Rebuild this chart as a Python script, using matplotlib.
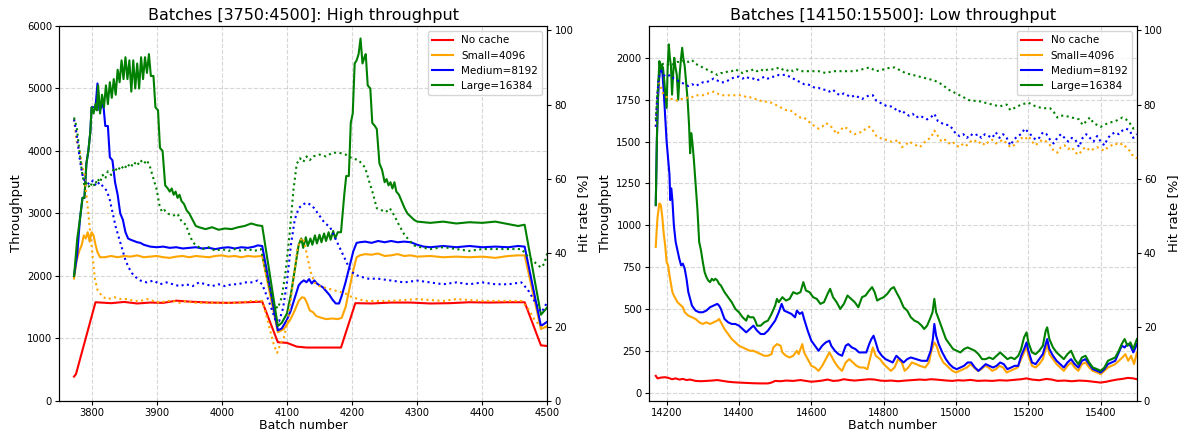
import numpy as np
import matplotlib
matplotlib.use("Agg")
import matplotlib.pyplot as plt

# ---- series labels / colours ----
labels = ["No cache", "Small=4096", "Medium=8192", "Large=16384"]
colors = ["red", "orange", "blue", "green"]

# ===== Batches [3750:4500] : throughput (batch, value) =====
hi_nocache = [(3773, 390), (3776, 430), (3806, 1580), (3830, 1565), (3850, 1585), (3870, 1560),
              (3890, 1575), (3910, 1570), (3930, 1605), (3950, 1590), (3980, 1575), (4010, 1570),
              (4040, 1580), (4062, 1590), (4086, 940), (4100, 930), (4115, 870), (4130, 855),
              (4160, 855), (4183, 855), (4205, 1565), (4230, 1560), (4260, 1575), (4290, 1575),
              (4320, 1560), (4350, 1565), (4380, 1580), (4410, 1575), (4440, 1580), (4465, 1580),
              (4490, 890), (4500, 880)]

hi_small = [(3773, 1960), (3777, 2250), (3781, 2400), (3785, 2500), (3788, 2650), (3791, 2600),
            (3794, 2700), (3797, 2550), (3800, 2700), (3803, 2650), (3806, 2500), (3809, 2380),
            (3813, 2300), (3820, 2300), (3830, 2320), (3840, 2300), (3850, 2320), (3860, 2310),
            (3870, 2330), (3880, 2300), (3890, 2310), (3900, 2320), (3910, 2300), (3920, 2290),
            (3930, 2310), (3940, 2320), (3950, 2300), (3960, 2320), (3970, 2310), (3980, 2300),
            (3990, 2320), (4000, 2330), (4010, 2310), (4020, 2320), (4030, 2300), (4040, 2320),
            (4050, 2310), (4062, 2320), (4086, 1100), (4095, 1150), (4105, 1300), (4112, 1450),
            (4118, 1600), (4123, 1660), (4127, 1650), (4131, 1560), (4135, 1450), (4140, 1420),
            (4145, 1360), (4150, 1340), (4160, 1310), (4170, 1320), (4178, 1310), (4184, 1330),
            (4190, 1500), (4196, 1800), (4202, 2100), (4207, 2300), (4212, 2330), (4220, 2350),
            (4230, 2340), (4240, 2360), (4250, 2320), (4260, 2330), (4270, 2350), (4280, 2320),
            (4290, 2330), (4300, 2310), (4320, 2320), (4340, 2300), (4360, 2310), (4380, 2300),
            (4400, 2310), (4420, 2290), (4440, 2320), (4455, 2330), (4465, 2330), (4490, 1150),
            (4500, 1200)]

hi_medium = [(3773, 2000), (3778, 2350), (3782, 2900), (3786, 3250), (3789, 3250), (3792, 3800),
             (3795, 4000), (3798, 4300), (3800, 4700), (3803, 4700), (3806, 4700), (3809, 5080),
             (3812, 4650), (3815, 4700), (3818, 4750), (3821, 4400), (3825, 4400), (3828, 3900),
             (3832, 3850), (3836, 3500), (3840, 3300), (3844, 3000), (3848, 2900), (3852, 2700),
             (3856, 2600), (3860, 2580), (3865, 2560), (3870, 2540), (3875, 2530), (3880, 2500),
             (3890, 2470), (3900, 2460), (3910, 2470), (3920, 2450), (3930, 2460), (3940, 2440),
             (3950, 2450), (3960, 2460), (3970, 2440), (3980, 2450), (3990, 2430), (4000, 2450),
             (4010, 2460), (4020, 2440), (4030, 2460), (4040, 2450), (4050, 2470), (4055, 2490),
             (4062, 2480), (4086, 1130), (4092, 1160), (4100, 1300), (4106, 1450), (4112, 1650),
             (4118, 1850), (4122, 1900), (4126, 1930), (4130, 1900), (4134, 1950), (4138, 1880),
             (4142, 1930), (4146, 1880), (4150, 1850), (4155, 1820), (4160, 1760), (4165, 1700),
             (4170, 1620), (4175, 1560), (4180, 1560), (4184, 1680), (4190, 1900), (4196, 2150),
             (4202, 2400), (4207, 2530), (4212, 2540), (4220, 2550), (4230, 2530), (4240, 2560),
             (4250, 2540), (4260, 2560), (4270, 2540), (4280, 2550), (4290, 2540), (4300, 2500),
             (4310, 2470), (4320, 2460), (4340, 2480), (4360, 2460), (4380, 2480), (4400, 2460),
             (4420, 2470), (4440, 2460), (4455, 2480), (4465, 2470), (4490, 1200), (4500, 1270)]

hi_large = [(3773, 2000), (3778, 2600), (3782, 2900), (3786, 3250), (3789, 3250), (3792, 3800),
            (3795, 4000), (3798, 4300), (3800, 4700), (3803, 4600), (3806, 4750), (3808, 4650),
            (3810, 5050), (3813, 4600), (3816, 4900), (3819, 4700), (3822, 5050), (3825, 4750),
            (3828, 5100), (3831, 4850), (3834, 5150), (3837, 4900), (3840, 5300), (3843, 5100),
            (3846, 5450), (3849, 5150), (3852, 5500), (3855, 5150), (3858, 5450), (3861, 4950),
            (3864, 5450), (3867, 5000), (3870, 5400), (3873, 5000), (3876, 5500), (3879, 5150),
            (3882, 5500), (3885, 5250), (3888, 5550), (3891, 5200), (3895, 5200), (3898, 4700),
            (3902, 4650), (3905, 4050), (3909, 4000), (3913, 3450), (3917, 3400), (3920, 3350),
            (3923, 3400), (3926, 3300), (3929, 3350), (3932, 3250), (3935, 3300), (3938, 3200),
            (3942, 3150), (3946, 3050), (3950, 3000), (3955, 2900), (3960, 2800), (3965, 2780),
            (3975, 2750), (3985, 2780), (3995, 2740), (4005, 2760), (4015, 2750), (4025, 2780),
            (4035, 2800), (4045, 2840), (4055, 2810), (4062, 2800), (4086, 1200), (4092, 1250),
            (4100, 1400), (4106, 1700), (4112, 2100), (4118, 2500), (4122, 2600), (4125, 2450),
            (4129, 2620), (4132, 2480), (4136, 2600), (4139, 2500), (4143, 2650), (4146, 2520),
            (4150, 2660), (4153, 2540), (4157, 2680), (4160, 2560), (4164, 2700), (4167, 2580),
            (4171, 2720), (4174, 2600), (4178, 2700), (4183, 2700), (4188, 3300), (4191, 3600),
            (4195, 3600), (4198, 4450), (4201, 4600), (4204, 5400), (4207, 5450), (4210, 5550),
            (4213, 5800), (4216, 5400), (4219, 5500), (4221, 5550), (4224, 5050), (4228, 5000),
            (4231, 4450), (4235, 4400), (4238, 4350), (4242, 3800), (4246, 3700), (4250, 3500),
            (4253, 3550), (4256, 3450), (4259, 3500), (4262, 3400), (4265, 3500), (4268, 3350),
            (4272, 3300), (4276, 3200), (4280, 3100), (4285, 3000), (4290, 2950), (4295, 2900),
            (4300, 2870), (4320, 2850), (4340, 2870), (4360, 2840), (4380, 2860), (4400, 2850),
            (4420, 2870), (4440, 2830), (4455, 2800), (4465, 2820), (4490, 1380), (4500, 1500)]

# ===== Batches [3750:4500] : hit rate % =====
hi_small_hr = [(3773, 76), (3777, 70), (3781, 68), (3785, 64), (3789, 61), (3793, 54), (3797, 47),
               (3801, 40), (3805, 33), (3809, 30), (3813, 29), (3818, 28), (3825, 27.5), (3835, 28),
               (3845, 27.5), (3855, 27.5), (3865, 27), (3875, 27), (3885, 27.5), (3895, 27),
               (3905, 26.5), (3915, 27), (3925, 27), (3935, 26.5), (3945, 27), (3955, 26.5),
               (3965, 26.5), (3985, 26.5), (4005, 26.5), (4025, 26.5), (4045, 27), (4062, 27),
               (4070, 22), (4080, 15), (4085, 13), (4090, 15.5), (4095, 17), (4102, 22), (4110, 33),
               (4116, 41), (4121, 43.5), (4125, 44), (4130, 40), (4136, 35), (4142, 32), (4150, 31),
               (4160, 30.5), (4170, 30), (4180, 29.5), (4190, 29), (4200, 28), (4210, 27.5),
               (4220, 27), (4260, 27), (4300, 27.5), (4340, 27), (4360, 27.5), (4400, 27),
               (4460, 27), (4470, 25), (4480, 22), (4490, 20), (4495, 19.5), (4500, 21)]

hi_medium_hr = [(3773, 76), (3777, 72), (3782, 65), (3787, 60), (3792, 59), (3797, 58.5),
                (3802, 59.5), (3807, 58), (3812, 59), (3817, 58), (3822, 57), (3827, 55), (3832, 51),
                (3837, 47), (3842, 44), (3847, 41), (3852, 38), (3857, 36), (3862, 34.5),
                (3867, 33.5), (3875, 32.5), (3885, 32), (3895, 32.5), (3905, 31.5), (3915, 32),
                (3925, 31.5), (3935, 31), (3945, 31.5), (3955, 31), (3965, 32), (3975, 31.5),
                (3985, 31), (3995, 31.5), (4005, 31), (4015, 31.5), (4025, 31.5), (4035, 32),
                (4045, 32), (4055, 32.5), (4062, 31.5), (4072, 27), (4082, 22), (4088, 21.5),
                (4094, 25), (4100, 32), (4106, 42), (4112, 49), (4118, 52), (4124, 53), (4130, 53.5),
                (4136, 53), (4142, 52), (4150, 50), (4158, 48), (4166, 47), (4174, 44), (4182, 41),
                (4190, 38), (4198, 35), (4206, 34), (4214, 33.5), (4225, 33), (4240, 33),
                (4260, 32.5), (4280, 32), (4300, 32.5), (4320, 32), (4340, 31.5), (4360, 32),
                (4380, 31.5), (4400, 32), (4420, 31.5), (4440, 31.5), (4460, 32), (4470, 30),
                (4480, 27), (4490, 24), (4495, 25), (4500, 27)]

hi_large_hr = [(3773, 76.5), (3777, 74), (3781, 68), (3785, 62), (3789, 58), (3793, 59),
               (3797, 57.5), (3801, 59), (3805, 58), (3809, 60), (3813, 59), (3817, 61), (3821, 60),
               (3825, 62), (3830, 61), (3835, 63), (3840, 62), (3845, 63.5), (3850, 62.5),
               (3855, 64), (3860, 63), (3865, 64.5), (3870, 63.5), (3875, 65), (3880, 64),
               (3885, 65), (3890, 63), (3895, 60), (3900, 57), (3904, 53), (3908, 51),
               (3912, 51.5), (3918, 50.5), (3925, 50), (3932, 50.5), (3938, 48.5), (3945, 47.5),
               (3950, 45), (3955, 43), (3960, 42), (3970, 41), (3980, 41.5), (3990, 40.5),
               (4000, 41), (4010, 40.5), (4020, 41), (4030, 40.5), (4040, 41), (4050, 40.5),
               (4060, 41), (4070, 33), (4080, 26), (4086, 25), (4092, 28), (4098, 35), (4104, 45),
               (4110, 57), (4115, 64), (4120, 65.5), (4125, 64.5), (4130, 66), (4135, 65),
               (4140, 66), (4150, 66.5), (4160, 66), (4170, 67), (4180, 67), (4190, 66.5),
               (4200, 65.5), (4210, 65), (4215, 64), (4220, 63), (4225, 60), (4232, 56), (4238, 52),
               (4245, 51.5), (4252, 51), (4258, 52), (4265, 50), (4272, 47.5), (4280, 45),
               (4287, 43.5), (4295, 42), (4305, 41.5), (4320, 41), (4340, 41.5), (4360, 41),
               (4380, 40.5), (4400, 41), (4460, 41), (4470, 39), (4480, 37.5), (4490, 36),
               (4495, 37), (4500, 40)]

# ===== Batches [14150:15500] : throughput =====
lo_nocache = [(14170, 100), (14175, 85), (14185, 90), (14195, 92), (14205, 88), (14215, 80),
              (14225, 85), (14235, 78), (14245, 82), (14255, 75), (14265, 78), (14280, 70),
              (14295, 68), (14310, 70), (14325, 72), (14340, 75), (14355, 70), (14370, 65),
              (14385, 62), (14400, 60), (14420, 58), (14440, 56), (14460, 55), (14480, 55),
              (14490, 60), (14500, 70), (14515, 68), (14530, 72), (14550, 70), (14570, 75),
              (14585, 70), (14600, 65), (14615, 68), (14630, 72), (14645, 78), (14660, 70),
              (14675, 72), (14690, 80), (14705, 75), (14720, 72), (14740, 76), (14760, 80),
              (14775, 78), (14790, 72), (14805, 70), (14820, 72), (14840, 68), (14860, 72),
              (14880, 75), (14900, 78), (14915, 76), (14930, 80), (14945, 78), (14960, 75),
              (14975, 72), (14990, 70), (15005, 74), (15020, 72), (15040, 76), (15060, 70),
              (15080, 72), (15100, 70), (15120, 74), (15140, 72), (15160, 76), (15180, 80),
              (15195, 85), (15210, 78), (15230, 74), (15250, 82), (15265, 78), (15280, 70),
              (15300, 72), (15320, 68), (15340, 72), (15360, 70), (15380, 65), (15400, 60),
              (15415, 65), (15430, 72), (15445, 78), (15460, 82), (15475, 88), (15490, 85),
              (15500, 80)]

lo_small = [(14170, 870), (14172, 950), (14175, 1050), (14180, 1130), (14184, 1120), (14188, 1050),
            (14192, 950), (14196, 880), (14200, 780), (14204, 760), (14208, 700), (14212, 650),
            (14216, 600), (14220, 580), (14225, 560), (14230, 540), (14235, 530), (14240, 520),
            (14245, 510), (14250, 480), (14255, 470), (14260, 460), (14270, 450), (14280, 440),
            (14290, 420), (14300, 410), (14310, 420), (14320, 410), (14330, 420), (14340, 430),
            (14345, 440), (14350, 420), (14360, 380), (14370, 350), (14380, 320), (14390, 300),
            (14400, 280), (14410, 270), (14420, 260), (14430, 250), (14440, 250), (14450, 240),
            (14460, 230), (14470, 220), (14480, 220), (14490, 230), (14495, 270), (14505, 290),
            (14515, 280), (14520, 240), (14530, 220), (14540, 210), (14550, 220), (14560, 250),
            (14565, 230), (14575, 290), (14580, 240), (14590, 200), (14600, 160), (14610, 150),
            (14620, 130), (14630, 160), (14640, 200), (14650, 240), (14655, 220), (14665, 180),
            (14675, 150), (14685, 130), (14695, 180), (14705, 200), (14715, 180), (14725, 160),
            (14735, 150), (14745, 150), (14755, 140), (14762, 200), (14770, 270), (14778, 220),
            (14790, 200), (14800, 170), (14810, 150), (14820, 130), (14830, 150), (14840, 200),
            (14850, 180), (14858, 130), (14868, 150), (14878, 180), (14890, 170), (14900, 160),
            (14915, 150), (14925, 180), (14932, 250), (14940, 300), (14946, 280), (14955, 220),
            (14965, 180), (14980, 150), (14990, 130), (15000, 120), (15010, 130), (15020, 140),
            (15030, 150), (15040, 170), (15050, 150), (15060, 130), (15070, 140), (15080, 160),
            (15090, 150), (15100, 130), (15110, 140), (15120, 160), (15130, 150), (15140, 120),
            (15150, 130), (15160, 140), (15170, 150), (15180, 200), (15188, 240), (15195, 280),
            (15200, 220), (15210, 160), (15220, 150), (15230, 170), (15240, 200), (15248, 260),
            (15252, 290), (15258, 230), (15268, 200), (15278, 170), (15288, 150), (15298, 130),
            (15308, 160), (15318, 180), (15328, 150), (15338, 130), (15348, 170), (15358, 180),
            (15368, 150), (15378, 130), (15390, 120), (15400, 110), (15410, 130), (15420, 150),
            (15430, 160), (15440, 170), (15450, 190), (15460, 210), (15468, 230), (15476, 190),
            (15484, 220), (15492, 170), (15500, 240)]

lo_medium = [(14170, 1120), (14173, 1500), (14176, 1750), (14180, 1900), (14184, 1950),
             (14188, 1920), (14192, 1800), (14196, 1650), (14200, 1500), (14204, 1400),
             (14208, 1300), (14210, 1150), (14213, 1220), (14216, 1150), (14220, 1000),
             (14225, 900), (14230, 850), (14235, 800), (14240, 760), (14245, 770), (14250, 740),
             (14255, 680), (14260, 600), (14265, 560), (14270, 520), (14280, 490), (14290, 480),
             (14300, 480), (14310, 490), (14320, 510), (14330, 520), (14340, 530), (14345, 520),
             (14350, 500), (14360, 440), (14370, 420), (14380, 410), (14390, 410), (14400, 400),
             (14410, 380), (14420, 360), (14430, 380), (14440, 400), (14450, 370), (14460, 350),
             (14470, 350), (14480, 370), (14490, 400), (14500, 430), (14510, 480), (14518, 530),
             (14525, 490), (14535, 480), (14545, 470), (14555, 450), (14560, 490), (14568, 470),
             (14575, 480), (14580, 440), (14590, 370), (14600, 310), (14610, 280), (14620, 250),
             (14630, 280), (14640, 300), (14650, 310), (14655, 280), (14665, 250), (14675, 230),
             (14685, 220), (14695, 280), (14702, 290), (14712, 270), (14722, 260), (14732, 240),
             (14742, 240), (14752, 240), (14760, 290), (14766, 320), (14772, 340), (14778, 300),
             (14785, 250), (14795, 220), (14805, 200), (14815, 190), (14825, 180), (14835, 220),
             (14845, 200), (14855, 180), (14865, 200), (14875, 210), (14890, 200), (14905, 190),
             (14920, 190), (14930, 250), (14936, 320), (14940, 410), (14945, 340), (14952, 290),
             (14962, 240), (14972, 200), (14982, 170), (14992, 150), (15002, 140), (15012, 150),
             (15022, 160), (15032, 180), (15042, 180), (15052, 150), (15062, 130), (15072, 150),
             (15082, 170), (15092, 160), (15102, 150), (15112, 160), (15122, 180), (15132, 170),
             (15142, 140), (15152, 150), (15162, 160), (15172, 160), (15180, 220), (15188, 260),
             (15195, 300), (15200, 250), (15210, 180), (15220, 170), (15230, 200), (15240, 230),
             (15248, 290), (15252, 320), (15258, 260), (15268, 220), (15278, 190), (15288, 170),
             (15298, 150), (15308, 180), (15318, 200), (15328, 170), (15338, 150), (15348, 190),
             (15358, 200), (15368, 170), (15378, 140), (15390, 130), (15400, 120), (15410, 140),
             (15420, 170), (15430, 180), (15440, 190), (15450, 240), (15458, 280), (15466, 270),
             (15474, 290), (15482, 280), (15490, 240), (15500, 290)]

lo_large = [(14170, 1120), (14173, 1500), (14176, 1800), (14180, 1980), (14183, 1940),
            (14186, 1960), (14190, 1940), (14194, 1850), (14198, 1750), (14200, 1700),
            (14203, 1950), (14206, 2080), (14209, 2000), (14212, 1950), (14215, 1780),
            (14218, 1900), (14221, 2000), (14224, 1950), (14228, 1900), (14232, 1750),
            (14236, 1900), (14240, 2000), (14243, 2060), (14246, 2000), (14250, 1950),
            (14254, 1850), (14258, 1750), (14262, 1600), (14265, 1430), (14268, 1550),
            (14271, 1500), (14275, 1400), (14280, 1250), (14285, 1100), (14290, 900), (14295, 850),
            (14300, 780), (14305, 720), (14310, 690), (14315, 670), (14320, 660), (14325, 680),
            (14330, 670), (14335, 680), (14340, 670), (14345, 650), (14350, 640), (14360, 600),
            (14370, 570), (14380, 540), (14390, 500), (14400, 480), (14410, 450), (14420, 430),
            (14425, 460), (14430, 450), (14440, 450), (14445, 430), (14450, 400), (14460, 400),
            (14470, 420), (14480, 430), (14490, 470), (14500, 520), (14505, 560), (14510, 540),
            (14520, 570), (14530, 550), (14540, 560), (14550, 600), (14560, 590), (14570, 600),
            (14578, 660), (14585, 610), (14595, 600), (14605, 570), (14615, 560), (14625, 530),
            (14635, 540), (14645, 590), (14652, 620), (14660, 570), (14670, 540), (14680, 500),
            (14690, 530), (14700, 580), (14710, 560), (14720, 540), (14730, 510), (14740, 570),
            (14750, 580), (14760, 610), (14768, 630), (14775, 600), (14782, 550), (14790, 560),
            (14800, 570), (14810, 590), (14820, 620), (14828, 630), (14835, 600), (14845, 560),
            (14855, 510), (14865, 490), (14875, 450), (14885, 430), (14895, 420), (14905, 400),
            (14912, 380), (14920, 400), (14928, 440), (14935, 480), (14940, 560), (14945, 480),
            (14952, 440), (14962, 380), (14972, 320), (14982, 290), (14992, 260), (15002, 250),
            (15012, 240), (15022, 260), (15032, 270), (15042, 260), (15052, 250), (15062, 230),
            (15072, 200), (15082, 200), (15092, 210), (15102, 200), (15112, 220), (15122, 240),
            (15132, 220), (15142, 200), (15152, 210), (15162, 200), (15172, 220), (15180, 260),
            (15188, 330), (15195, 360), (15200, 300), (15210, 240), (15220, 230), (15230, 250),
            (15240, 280), (15248, 370), (15252, 390), (15258, 320), (15268, 270), (15278, 240),
            (15288, 220), (15298, 200), (15308, 230), (15318, 250), (15328, 200), (15338, 170),
            (15348, 210), (15358, 220), (15368, 180), (15378, 150), (15390, 140), (15400, 130),
            (15410, 150), (15420, 190), (15430, 200), (15440, 210), (15450, 250), (15458, 290),
            (15466, 320), (15474, 280), (15482, 300), (15490, 260), (15500, 320)]

# ===== Batches [14150:15500] : hit rate % =====
lo_small_hr = [(14170, 74), (14174, 82), (14178, 86), (14182, 85.5), (14186, 84), (14190, 83),
               (14200, 82), (14210, 81.5), (14220, 81.5), (14230, 81), (14240, 81.5), (14250, 81.5),
               (14260, 82), (14270, 82), (14280, 82.5), (14290, 82.5), (14300, 82.5), (14310, 83),
               (14320, 83), (14330, 83.5), (14340, 83), (14350, 82.5), (14360, 82.5), (14380, 82.5),
               (14400, 82.5), (14410, 82.5), (14420, 82), (14430, 82), (14440, 81.5), (14450, 81.5),
               (14460, 81), (14470, 81), (14480, 80.5), (14490, 80.5), (14500, 80), (14510, 79.5),
               (14520, 79), (14530, 78.5), (14540, 78.5), (14550, 78), (14560, 77), (14570, 76.5),
               (14580, 76.5), (14590, 75.5), (14600, 75), (14610, 74), (14620, 73.5), (14630, 74),
               (14640, 75), (14650, 74.5), (14660, 73.5), (14670, 72), (14680, 73), (14690, 74),
               (14700, 73.5), (14710, 72.5), (14720, 72), (14730, 72.5), (14740, 72.5),
               (14750, 73.5), (14760, 74), (14770, 73), (14780, 71.5), (14790, 71), (14800, 70.5),
               (14810, 70.5), (14820, 70), (14830, 70), (14840, 70.5), (14850, 68.5), (14860, 69),
               (14870, 70), (14880, 69.5), (14890, 69), (14900, 68.5), (14910, 69.5), (14920, 70.5),
               (14930, 71), (14940, 73), (14950, 71.5), (14960, 70), (14970, 70.5), (14980, 69.5),
               (14990, 70), (15000, 69), (15010, 68.5), (15020, 69.5), (15030, 69), (15040, 70),
               (15050, 70.5), (15060, 69.5), (15070, 70), (15080, 69), (15090, 70), (15100, 70.5),
               (15110, 69.5), (15120, 70), (15130, 70.5), (15140, 69.5), (15150, 68.5), (15160, 69),
               (15170, 70), (15180, 71), (15190, 70.5), (15200, 71.5), (15210, 70), (15220, 69),
               (15230, 70), (15240, 70.5), (15250, 70), (15260, 69), (15270, 67.5), (15280, 67),
               (15290, 68.5), (15300, 69), (15310, 68), (15320, 68.5), (15330, 67), (15340, 66.5),
               (15350, 68), (15360, 68.5), (15370, 67.5), (15380, 68), (15390, 68.5), (15400, 68),
               (15410, 67.5), (15420, 68.5), (15430, 69), (15440, 69.5), (15450, 69), (15460, 69.5),
               (15470, 68.5), (15480, 67.5), (15490, 66), (15500, 65.5)]

lo_medium_hr = [(14170, 74), (14174, 82), (14178, 87), (14182, 88.5), (14186, 89), (14190, 88),
                (14200, 87.5), (14210, 88), (14220, 87), (14230, 86.5), (14240, 86), (14250, 85.5),
                (14260, 85), (14270, 85.5), (14280, 85), (14290, 85.5), (14300, 86), (14310, 86),
                (14320, 86.5), (14330, 87), (14340, 86.5), (14350, 86), (14360, 86), (14370, 86.5),
                (14380, 87), (14390, 87.5), (14400, 87.5), (14410, 87), (14420, 87.5), (14430, 87),
                (14440, 87), (14450, 86.5), (14460, 87), (14470, 87.5), (14480, 87), (14490, 87.5),
                (14500, 87.5), (14510, 88), (14520, 88), (14530, 88), (14540, 87.5), (14550, 87),
                (14560, 86.5), (14570, 86), (14580, 85.5), (14590, 85.5), (14600, 85), (14610, 84.5),
                (14620, 84.5), (14630, 84), (14640, 84), (14650, 83.5), (14660, 84), (14670, 83),
                (14680, 82.5), (14690, 83), (14700, 82.5), (14710, 82), (14720, 82.5), (14730, 82),
                (14740, 81.5), (14750, 82), (14760, 82.5), (14770, 82.5), (14780, 81), (14790, 80.5),
                (14800, 80), (14810, 79.5), (14820, 79.5), (14830, 79), (14840, 78), (14850, 78.5),
                (14860, 77.5), (14870, 77), (14880, 77.5), (14890, 76.5), (14900, 77), (14910, 76.5),
                (14920, 76), (14930, 76.5), (14940, 77.5), (14950, 75.5), (14960, 75), (14970, 74.5),
                (14980, 74.5), (14990, 73.5), (15000, 72), (15010, 71.5), (15020, 72), (15030, 71),
                (15040, 72), (15050, 71.5), (15060, 72), (15070, 71), (15080, 72), (15090, 71.5),
                (15100, 71), (15110, 72.5), (15120, 71), (15130, 72), (15140, 71), (15150, 69),
                (15160, 70.5), (15170, 71.5), (15180, 72), (15190, 73.5), (15200, 72.5),
                (15210, 71.5), (15220, 70.5), (15230, 71), (15240, 72.5), (15250, 72), (15260, 70.5),
                (15270, 69.5), (15280, 71), (15290, 72), (15300, 71), (15310, 70), (15320, 71),
                (15330, 70.5), (15340, 68.5), (15350, 71), (15360, 72), (15370, 71), (15380, 70),
                (15390, 71.5), (15400, 70), (15410, 69), (15420, 71), (15430, 72), (15440, 72.5),
                (15450, 72), (15460, 73), (15470, 73.5), (15480, 73), (15490, 71), (15500, 72)]

lo_large_hr = [(14170, 76), (14174, 82), (14178, 87), (14182, 89), (14186, 90.5), (14190, 91),
               (14200, 91), (14210, 90.5), (14220, 91), (14230, 91.5), (14240, 91.5), (14250, 92),
               (14260, 91.5), (14270, 92), (14280, 91), (14290, 90.5), (14300, 90), (14310, 89.5),
               (14320, 89), (14330, 88.5), (14340, 88), (14350, 88.5), (14360, 88.5), (14370, 89),
               (14380, 89), (14390, 89.5), (14400, 89), (14410, 88.5), (14420, 89), (14430, 89),
               (14440, 89.5), (14450, 89), (14460, 89.5), (14470, 89), (14480, 89.5), (14500, 89.5),
               (14510, 90), (14520, 89.5), (14530, 89), (14540, 89.5), (14550, 89), (14560, 89.5),
               (14570, 89), (14600, 89), (14620, 89), (14640, 88.5), (14660, 89), (14700, 89),
               (14720, 89), (14740, 89.5), (14760, 90), (14780, 89), (14800, 89.5), (14820, 90),
               (14830, 90), (14840, 89.5), (14860, 88.5), (14880, 88), (14900, 87.5), (14920, 87),
               (14940, 86.5), (14960, 85.5), (14980, 84), (15000, 83), (15020, 82), (15040, 81),
               (15060, 81), (15080, 80.5), (15100, 80), (15120, 79.5), (15140, 80), (15150, 78.5),
               (15160, 79), (15180, 80), (15200, 80.5), (15220, 79.5), (15240, 79), (15260, 79),
               (15270, 78), (15280, 76.5), (15290, 77), (15300, 77), (15320, 76.5), (15340, 76),
               (15350, 74.5), (15360, 75.5), (15370, 76.5), (15380, 75), (15400, 74), (15420, 75),
               (15440, 75.5), (15460, 76.5), (15470, 76), (15480, 75), (15490, 73.5), (15500, 74)]


def draw_panel(ax, title, throughput, hitrate, xlim, xticks, ylim, yticks):
    ax2 = ax.twinx()

    handles = []
    for label, color, pts in zip(labels, colors, throughput):
        x, y = np.array(pts).T
        line, = ax.plot(x, y, color=color, linewidth=1.5, label=label)
        handles.append(line)

    # dotted lines: hit rate (no cache has none)
    for color, pts in zip(colors[1:], hitrate):
        x, y = np.array(pts).T
        ax2.plot(x, y, color=color, linestyle=':', linewidth=1.5)

    ax.set_xlim(xlim)
    ax.set_xticks(xticks)
    ax.set_ylim(ylim)
    ax.set_yticks(yticks)
    ax2.set_ylim(0, 101.2)
    ax2.set_yticks([0, 20, 40, 60, 80, 100])

    ax.grid(True, linestyle='--', alpha=0.5)
    ax.set_title(title, fontsize=11.5, pad=4)
    ax.set_xlabel("Batch number", fontsize=9, labelpad=1)
    ax.set_ylabel("Throughput", fontsize=9.5, labelpad=3)
    ax2.set_ylabel("Hit rate [%]", fontsize=9.5, labelpad=3)
    ax.tick_params(labelsize=7.2, length=3, pad=2)
    ax2.tick_params(labelsize=7.2, length=3, pad=2)

    ax2.legend(handles=handles, loc='upper right', fontsize=7.5)


fig, (ax_hi, ax_lo) = plt.subplots(1, 2, figsize=(11.88, 4.36), dpi=100)
fig.subplots_adjust(left=0.0497, right=0.957, bottom=0.0803, top=0.9404, wspace=0.207)

draw_panel(ax_hi, "Batches [3750:4500]: High throughput",
           [hi_nocache, hi_small, hi_medium, hi_large],
           [hi_small_hr, hi_medium_hr, hi_large_hr],
           (3750, 4500), np.arange(3800, 4501, 100),
           (0, 6000), np.arange(0, 6001, 1000))

draw_panel(ax_lo, "Batches [14150:15500]: Low throughput",
           [lo_nocache, lo_small, lo_medium, lo_large],
           [lo_small_hr, lo_medium_hr, lo_large_hr],
           (14150, 15500), np.arange(14200, 15401, 200),
           (-50, 2190), np.arange(0, 2001, 250))

fig.savefig("out.png", dpi=100)
